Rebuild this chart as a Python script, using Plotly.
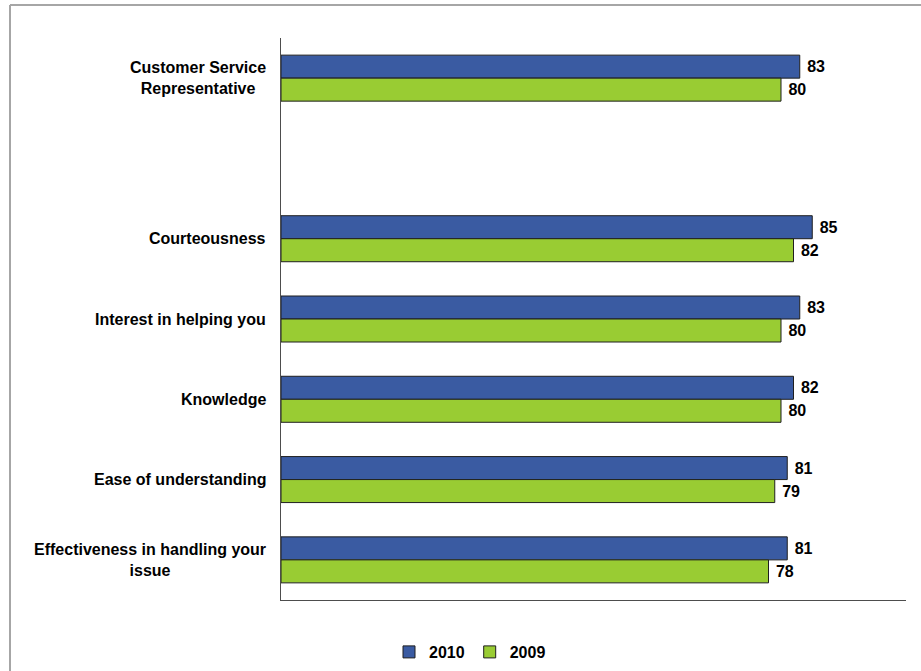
import plotly.graph_objects as go

# Survey attributes, top to bottom; an empty slot separates the overall score from its components
categories = [
    "Customer Service<br>Representative",
    None,
    "Courteousness",
    "Interest in helping you",
    "Knowledge",
    "Ease of understanding",
    "Effectiveness in handling your<br>issue",
]
values_2010 = [83, None, 85, 83, 82, 81, 81]
values_2009 = [80, None, 82, 80, 80, 79, 78]
series_names = ["2010", "2009"]

BLUE = "#3A5BA2"
GREEN = "#99CC33"
OUTLINE = "#1F1F1F"
FONT = "Arial, Liberation Sans, sans-serif"

slots = list(range(len(categories)))
ys = [i for i, c in enumerate(categories) if c is not None]

fig = go.Figure()
for name, vals, color in [(series_names[0], values_2010, BLUE), (series_names[1], values_2009, GREEN)]:
    xs = [vals[i] for i in ys]
    fig.add_trace(go.Bar(
        name=name,
        orientation="h",
        y=ys,
        x=xs,
        marker=dict(color=color, line=dict(color=OUTLINE, width=1)),
        text=xs,
        texttemplate="\u00a0%{x}",
        textposition="outside",
        textfont=dict(family=FONT, size=16, color="#000000", weight="bold"),
        cliponaxis=False,
    ))

# Category labels, right-aligned to the axis, multi-line text centred
for i in ys:
    fig.add_annotation(
        x=0, xref="paper", y=i, yref="y",
        text="<b>" + categories[i] + "</b>",
        showarrow=False, xanchor="right", yanchor="middle",
        align="center", xshift=-13,
        font=dict(family=FONT, size=16, color="#000000"),
    )

# Chart frame (only top and left edges fall inside the page)
fig.add_shape(type="line", xref="paper", yref="paper",
              x0=(10 - 281) / 625, x1=1.1, y0=(600 - 5) / 562, y1=(600 - 5) / 562,
              line=dict(color="#A6A6A6", width=2))
fig.add_shape(type="line", xref="paper", yref="paper",
              x0=(10 - 281) / 625, x1=(10 - 281) / 625, y0=(600 - 5) / 562, y1=-0.2,
              line=dict(color="#A6A6A6", width=2))

fig.update_layout(
    width=921, height=671,
    margin=dict(l=281, r=15, t=38, b=71, autoexpand=False),
    paper_bgcolor="white", plot_bgcolor="white",
    barmode="group", bargap=0.427, bargroupgap=0,
    showlegend=True,
    legend=dict(
        orientation="h", xref="container", yref="container",
        x=470 / 921, xanchor="center", y=(671 - 652) / 671, yanchor="middle",
        font=dict(family=FONT, size=16, color="#000000", weight="bold"),
        itemwidth=30, traceorder="normal",
    ),
    font=dict(family=FONT, size=15, color="#000000"),
    xaxis=dict(range=[0, 100], showgrid=False, zeroline=False, showticklabels=False,
               ticks="", showline=True, linecolor="#4D4D4D", linewidth=1),
    yaxis=dict(range=[len(slots) - 0.5, -0.5], showgrid=False, zeroline=False,
               showticklabels=False, ticks="", showline=True, linecolor="#4D4D4D", linewidth=1),
)

fig.write_html("out.html")
